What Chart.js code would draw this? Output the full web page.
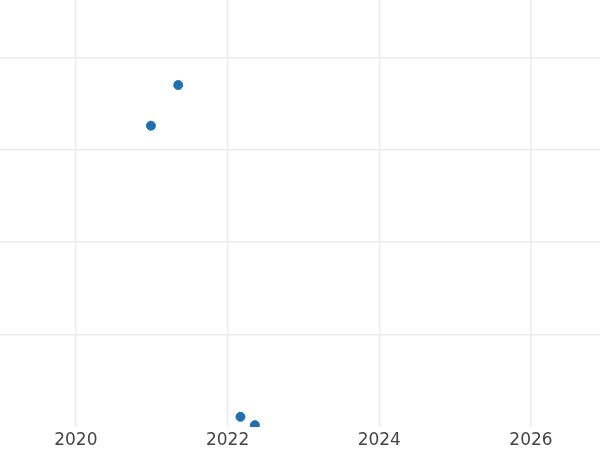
<!doctype html>
<html>
    <head>
        <title>scatter</title>
        <script src="https://cdn.jsdelivr.net/npm/chart.js@4/dist/chart.umd.min.js"></script>
        <style>
            html, body { margin: 0; padding: 0; background: #fff; }
            #wrap { width: 600px; height: 450px; }
        </style>
    </head>

    <body>
        <div id="wrap"><canvas id="chart"></canvas></div>

        <script>
        // values
        var years = [2020.99, 2021.35, 2022.17, 2022.36];
        var values = [3.26, 3.70, 0.11, 0.02];
        var xTicks = [2020, 2022, 2024, 2026];
        var yTicks = [1, 2, 3, 4];

        var points = years.map(function(x, i) {
            return {x: x, y: values[i]};
        });

        new Chart(document.getElementById("chart"), {
            type: "scatter",
            data: {
                datasets: [{
                    data: points,
                    backgroundColor: "#1f70b0",
                    borderColor: "#1f70b0",
                    pointRadius: 4.5,
                    pointHoverRadius: 4.5,
                    clip: 0
                }]
            },
            options: {
                responsive: true,
                maintainAspectRatio: false,
                animation: false,
                layout: { padding: 0, autoPadding: false },
                plugins: {
                    legend: { display: false },
                    tooltip: { enabled: false }
                },
                scales: {
                    x: {
                        type: "linear",
                        min: 2019.0,
                        max: 2026.91,
                        afterBuildTicks: function(axis) {
                            axis.ticks = xTicks.map(function(v) { return {value: v}; });
                        },
                        afterFit: function(axis) {
                            axis.height = 23;
                        },
                        ticks: {
                            color: "#444",
                            padding: 5,
                            maxRotation: 0,
                            font: { family: "DejaVu Sans", size: 17, lineHeight: 1 },
                            callback: function(v) { return String(v); }
                        },
                        grid: { color: "#ebebeb", lineWidth: 1.5, drawTicks: false },
                        border: { display: false }
                    },
                    y: {
                        min: 0,
                        max: 4.62,
                        afterBuildTicks: function(axis) {
                            axis.ticks = yTicks.map(function(v) { return {value: v}; });
                        },
                        ticks: { display: false },
                        grid: { color: "#ebebeb", lineWidth: 1.5, drawTicks: false },
                        border: { display: false }
                    }
                }
            }
        });
        </script>
    </body>
</html>
